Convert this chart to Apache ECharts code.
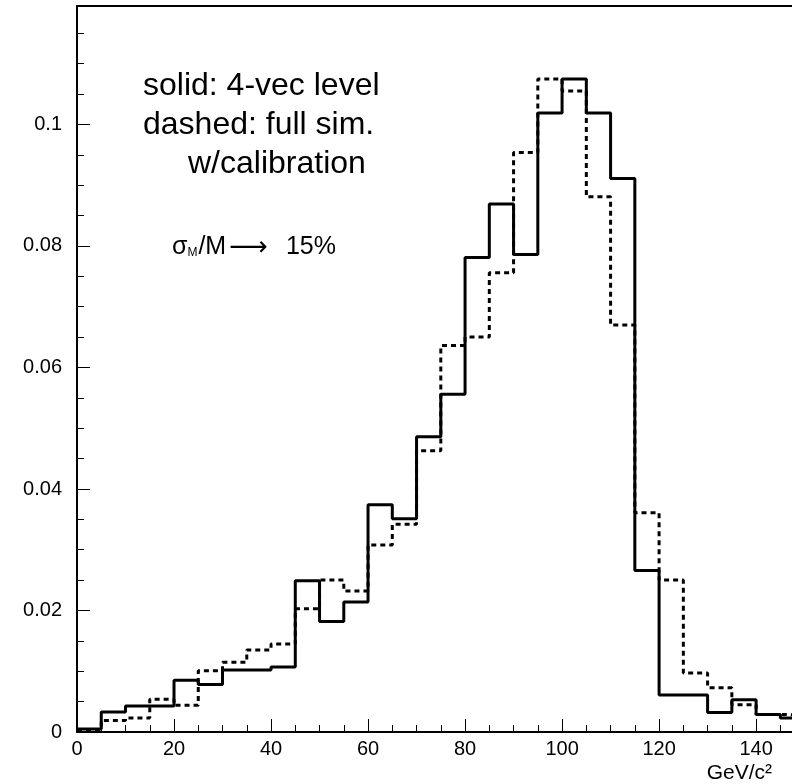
<!DOCTYPE html>
<html>
<head>
<meta charset="utf-8">
<script src="https://cdn.jsdelivr.net/npm/echarts@6/dist/echarts.min.js"></script>
<style>
html, body { margin: 0; padding: 0; background: #fff; }
#chart { width: 792px; height: 784px; }
</style>
</head>
<body>
<div id="chart"></div>
<script>
// histogram bins (GeV/c^2), lower edges, width 5
var binStarts = [0, 5, 10, 15, 20, 25, 30, 35, 40, 45, 50, 55, 60, 65, 70, 75,
                 80, 85, 90, 95, 100, 105, 110, 115, 120, 125, 130, 135, 140, 145];
var binWidth = 5;

// solid: 4-vec level
var solidValues = [0.0005, 0.0033, 0.0043, 0.0043, 0.0085, 0.0078, 0.0102, 0.0102, 0.0107, 0.0249,
                   0.0182, 0.0214, 0.0374, 0.0351, 0.0486, 0.0556, 0.0781, 0.0869, 0.0786, 0.1019,
                   0.1075, 0.1019, 0.0911, 0.0266, 0.0061, 0.0061, 0.0032, 0.0053, 0.0029, 0.0023];

// dashed: full sim. w/calibration
var dashedValues = [0.0004, 0.0019, 0.0023, 0.0054, 0.0044, 0.0101, 0.0115, 0.0135, 0.0145, 0.0203,
                    0.0250, 0.0232, 0.0308, 0.0342, 0.0463, 0.0636, 0.0650, 0.0756, 0.0954, 0.1075,
                    0.1055, 0.0881, 0.0670, 0.0361, 0.0250, 0.0097, 0.0073, 0.0045, 0.0029, 0.0028];

var xTickLabels = [0, 20, 40, 60, 80, 100, 120, 140];
var yTickLabels = [0, 0.02, 0.04, 0.06, 0.08, 0.1];

var xMax = 147.4;
var yMax = 0.1195;

// points at the lower edge of each bin, plus the upper edge of the last one
function stepPoints(values) {
    var pts = [];
    for (var i = 0; i < values.length; i++) {
        pts.push([binStarts[i], values[i]]);
    }
    var last = values.length - 1;
    pts.push([binStarts[last] + binWidth, values[last]]);
    return pts;
}

var labelFont = 'Liberation Sans, Arial, sans-serif';

var chart = echarts.init(document.getElementById('chart'));
var option = {
    animation: false,
    backgroundColor: '#fff',
    grid: { left: 77, right: 0, top: 6, bottom: 52 },
    xAxis: [
        {
            type: 'value',
            min: 0,
            max: xMax,
            interval: 20,
            axisLine: { show: true, onZero: false, lineStyle: { color: '#000', width: 2 } },
            axisTick: { show: true, inside: true, length: 13, lineStyle: { color: '#000', width: 1 } },
            minorTick: { show: true, splitNumber: 4, length: 7, lineStyle: { color: '#000', width: 1 } },
            splitLine: { show: false },
            axisLabel: {
                color: '#000', fontSize: 20, fontFamily: labelFont, margin: 7,
                showMaxLabel: false,
                formatter: function (v) { return xTickLabels.indexOf(v) >= 0 ? String(v) : ''; }
            }
        },
        {
            type: 'value',
            position: 'top',
            min: 0,
            max: xMax,
            axisLine: { show: true, onZero: false, lineStyle: { color: '#000', width: 2 } },
            axisTick: { show: false },
            axisLabel: { show: false },
            splitLine: { show: false }
        }
    ],
    yAxis: {
        type: 'value',
        min: 0,
        max: yMax,
        interval: 0.02,
        axisLine: { show: true, onZero: false, lineStyle: { color: '#000', width: 2 } },
        axisTick: { show: true, inside: true, length: 13, lineStyle: { color: '#000', width: 1 } },
        minorTick: { show: true, splitNumber: 4, length: 7, lineStyle: { color: '#000', width: 1 } },
        splitLine: { show: false },
        axisLabel: {
            color: '#000', fontSize: 20, fontFamily: labelFont, margin: 15,
            showMaxLabel: false,
            formatter: function (v) {
                for (var i = 0; i < yTickLabels.length; i++) {
                    if (Math.abs(yTickLabels[i] - v) < 1e-9) return String(yTickLabels[i]);
                }
                return '';
            }
        }
    },
    series: [
        {
            name: 'full sim. w/calibration',
            type: 'line',
            step: 'end',
            xAxisIndex: 0,
            symbol: 'none',
            lineStyle: { color: '#000', width: 3, type: [5, 4] },
            data: stepPoints(dashedValues),
            z: 2
        },
        {
            name: '4-vec level',
            type: 'line',
            step: 'end',
            xAxisIndex: 0,
            symbol: 'none',
            lineStyle: { color: '#000', width: 3, type: 'solid' },
            data: stepPoints(solidValues),
            z: 3
        }
    ],
    graphic: [
        { type: 'text', left: 143, top: 70, style: { text: 'solid: 4-vec level', font: '32px ' + labelFont, fill: '#000' } },
        { type: 'text', left: 143, top: 109, style: { text: 'dashed: full sim.', font: '32px ' + labelFont, fill: '#000' } },
        { type: 'text', left: 188, top: 148, style: { text: 'w/calibration', font: '32px ' + labelFont, fill: '#000' } },
        {
            type: 'text', left: 172, top: 234,
            style: {
                text: '{a|σ}{s|M}{a|/M}{r|⟶}{b|15%}',
                fill: '#000',
                rich: {
                    a: { fontSize: 25, fontFamily: labelFont, color: '#000' },
                    s: { fontSize: 12, fontFamily: labelFont, color: '#000', padding: [10, 1, 0, 0] },
                    r: { fontSize: 27, fontFamily: 'DejaVu Sans', color: '#000', padding: [0, 4, 0, 3] },
                    b: { fontSize: 25, fontFamily: labelFont, color: '#000', padding: [0, 0, 0, 14] }
                }
            }
        },
        { type: 'text', right: 20, top: 763, style: { text: 'GeV/c²', font: '21px ' + labelFont, fill: '#000' } }
    ]
};
chart.setOption(option);
window.addEventListener('resize', chart.resize);
</script>
</body>
</html>
